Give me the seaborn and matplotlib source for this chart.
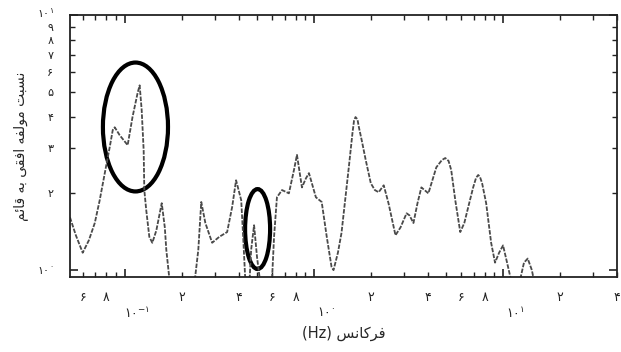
import matplotlib
matplotlib.use("Agg")
import matplotlib.pyplot as plt
from matplotlib.patches import Ellipse
from matplotlib.ticker import FixedLocator, FixedFormatter
from matplotlib.transforms import ScaledTranslation
import seaborn as sns
import pandas as pd

# ---- data ----
freq = [0.0514, 0.0552, 0.060, 0.0647, 0.0695, 0.0738, 0.0785, 0.0834, 0.0865, 0.0886,
        0.0941, 0.1037, 0.110, 0.117, 0.120, 0.123, 0.126, 0.127, 0.130, 0.135,
        0.140, 0.147, 0.157, 0.163, 0.166, 0.173, 0.180, 0.230, 0.245, 0.254,
        0.267, 0.290, 0.316, 0.348, 0.370, 0.388, 0.413, 0.423, 0.433, 0.455,
        0.466, 0.483, 0.501, 0.520, 0.566, 0.601, 0.616, 0.638, 0.679, 0.738,
        0.785, 0.814, 0.865, 0.908, 0.942, 0.976, 1.025, 1.10, 1.17, 1.24,
        1.27, 1.34, 1.40, 1.53, 1.60, 1.63, 1.66, 1.70, 1.73, 1.79, 1.88, 2.00,
        2.10, 2.20, 2.34, 2.48, 2.70, 2.87, 3.09, 3.20, 3.36, 3.53,
        3.70, 4.03, 4.44, 4.75, 4.95, 5.15, 5.32, 5.59, 5.94, 6.24, 6.55, 6.95,
        7.20, 7.39, 7.55, 7.75, 8.14, 8.65, 9.07, 9.53, 10.0, 10.5, 11.0, 11.7,
        12.4, 12.9, 13.5, 14.2, 14.7, 19.4, 40.0]
ratio = [1.61, 1.37, 1.17, 1.31, 1.53, 1.88, 2.40, 3.04, 3.54, 3.63,
         3.38, 3.09, 3.98, 4.94, 5.30, 4.24, 2.95, 2.06, 1.72, 1.35,
         1.28, 1.43, 1.83, 1.47, 1.20, 0.90, 0.80, 0.80, 1.20, 1.85,
         1.53, 1.28, 1.35, 1.41, 1.77, 2.25, 1.88, 1.35, 0.95, 0.85,
         1.20, 1.50, 1.12, 0.90, 0.80, 0.92, 1.35, 1.93, 2.06, 2.00,
         2.47, 2.83, 2.11, 2.29, 2.40, 2.19, 1.93, 1.85, 1.35, 1.03,
         1.00, 1.17, 1.40, 2.53, 3.45, 3.85, 3.98, 3.90, 3.63, 3.23, 2.70, 2.19,
         2.06, 2.02, 2.15, 1.83, 1.37, 1.47, 1.67, 1.64, 1.53, 1.83,
         2.11, 2.00, 2.53, 2.70, 2.75, 2.68, 2.47, 1.88, 1.41, 1.53, 1.77, 2.11,
         2.30, 2.36, 2.32, 2.19, 1.83, 1.28, 1.07, 1.17, 1.25, 1.07, 0.92, 0.85,
         0.94, 1.07, 1.11, 1.00, 0.88, 0.80, 0.80]

# tick values and labels (Persian digits)
x_major = [0.1, 1.0, 10.0]
x_major_labels = [r"$\mathregular{۱۰^{-۱}}$", r"$\mathregular{۱۰^{۰}}$", r"$\mathregular{۱۰^{۱}}$"]
x_minor = [0.06, 0.07, 0.08, 0.09, 0.2, 0.3, 0.4, 0.5, 0.6, 0.7, 0.8, 0.9,
           2, 3, 4, 5, 6, 7, 8, 9, 20, 30, 40]
x_minor_labels = ["۶", "", "۸", "", "۲", "", "۴", "", "۶", "", "۸", "",
                  "۲", "", "۴", "", "۶", "", "۸", "", "۲", "", "۴"]
y_major = [1.0, 10.0]
y_major_labels = [r"$\mathregular{۱۰^{۰}}$", r"$\mathregular{۱۰^{۱}}$"]
y_minor = [2, 3, 4, 5, 6, 7, 8, 9]
y_minor_labels = ["۲", "۳", "۴", "۵", "۶", "۷", "۸", "۹"]

# visually ordered, pre-shaped Persian strings
x_label = "(Hz) " + "\uFEB2\uFEE7\uFE8E\uFB90\uFEAE\uFED3"          # فرکانس (Hz)
y_label = ("\uFEE2\uFE8B\uFE8E\uFED7" + " " + "\uFEEA\uFE91" + " " +
           "\uFBFD\uFED8\uFED3\uFE8D" + " " + "\uFEEA\uFED4\uFEDF\uFEEE\uFEE3" + " " +
           "\uFE96\uFE92\uFEB4\uFEE7")                                  # نسبت مولفه افقی به قائم

sns.set_theme(style="ticks")
plt.rcParams["font.family"] = ["DejaVu Sans"]
plt.rcParams["mathtext.default"] = "regular"

fig = plt.figure(figsize=(6.21, 3.52), dpi=100)
ax = fig.add_axes([0.1127, 0.2131, 0.8808, 0.7443])

df = pd.DataFrame({"freq": freq, "ratio": ratio})
sns.lineplot(data=df, x="freq", y="ratio", sort=False, estimator=None, ax=ax,
             color="#4a4a4a", linewidth=1.3, linestyle=(0, (2.5, 0.8)))

ax.set_xscale("log")
ax.set_yscale("log")
ax.set_xlim(0.0514, 40.0)
ax.set_ylim(0.94, 10.0)

ax.xaxis.set_major_locator(FixedLocator(x_major))
ax.xaxis.set_major_formatter(FixedFormatter(x_major_labels))
ax.xaxis.set_minor_locator(FixedLocator(x_minor))
ax.xaxis.set_minor_formatter(FixedFormatter(x_minor_labels))
ax.yaxis.set_major_locator(FixedLocator(y_major))
ax.yaxis.set_major_formatter(FixedFormatter(y_major_labels))
ax.yaxis.set_minor_locator(FixedLocator(y_minor))
ax.yaxis.set_minor_formatter(FixedFormatter(y_minor_labels))

ax.tick_params(which="both", direction="in", top=True, right=True, colors="#222222",
               labelsize=9)
ax.tick_params(axis="y", which="both", labelsize=8)
ax.tick_params(which="major", length=6, width=1.2)
ax.tick_params(which="minor", length=3.5, width=1.0)
ax.tick_params(axis="x", which="minor", pad=10)
ax.tick_params(axis="x", which="major", pad=21)
ax.tick_params(axis="y", which="both", pad=12)

off = ScaledTranslation(9 / 72, 0, fig.dpi_scale_trans)
for lab in ax.xaxis.get_majorticklabels():
    lab.set_transform(lab.get_transform() + off)
lab10 = ax.yaxis.get_majorticklabels()[1]
lab10.set_transform(lab10.get_transform() + ScaledTranslation(0, 2 / 72, fig.dpi_scale_trans))

for s in ax.spines.values():
    s.set_color("#222222")
    s.set_linewidth(1.3)

ax.set_xlabel(x_label, fontsize=10.5, labelpad=3)
ax.set_ylabel(y_label, fontsize=10, labelpad=6)

# annotation ellipses (axes fraction)
ax.add_patch(Ellipse((0.1197, 0.5725), 0.119, 0.492, transform=ax.transAxes,
                     fill=False, edgecolor="black", linewidth=3, clip_on=False))
ax.add_patch(Ellipse((0.343, 0.183), 0.0457, 0.305, transform=ax.transAxes,
                     fill=False, edgecolor="black", linewidth=3, clip_on=False))

fig.savefig("out.png", dpi=100, facecolor="white")
